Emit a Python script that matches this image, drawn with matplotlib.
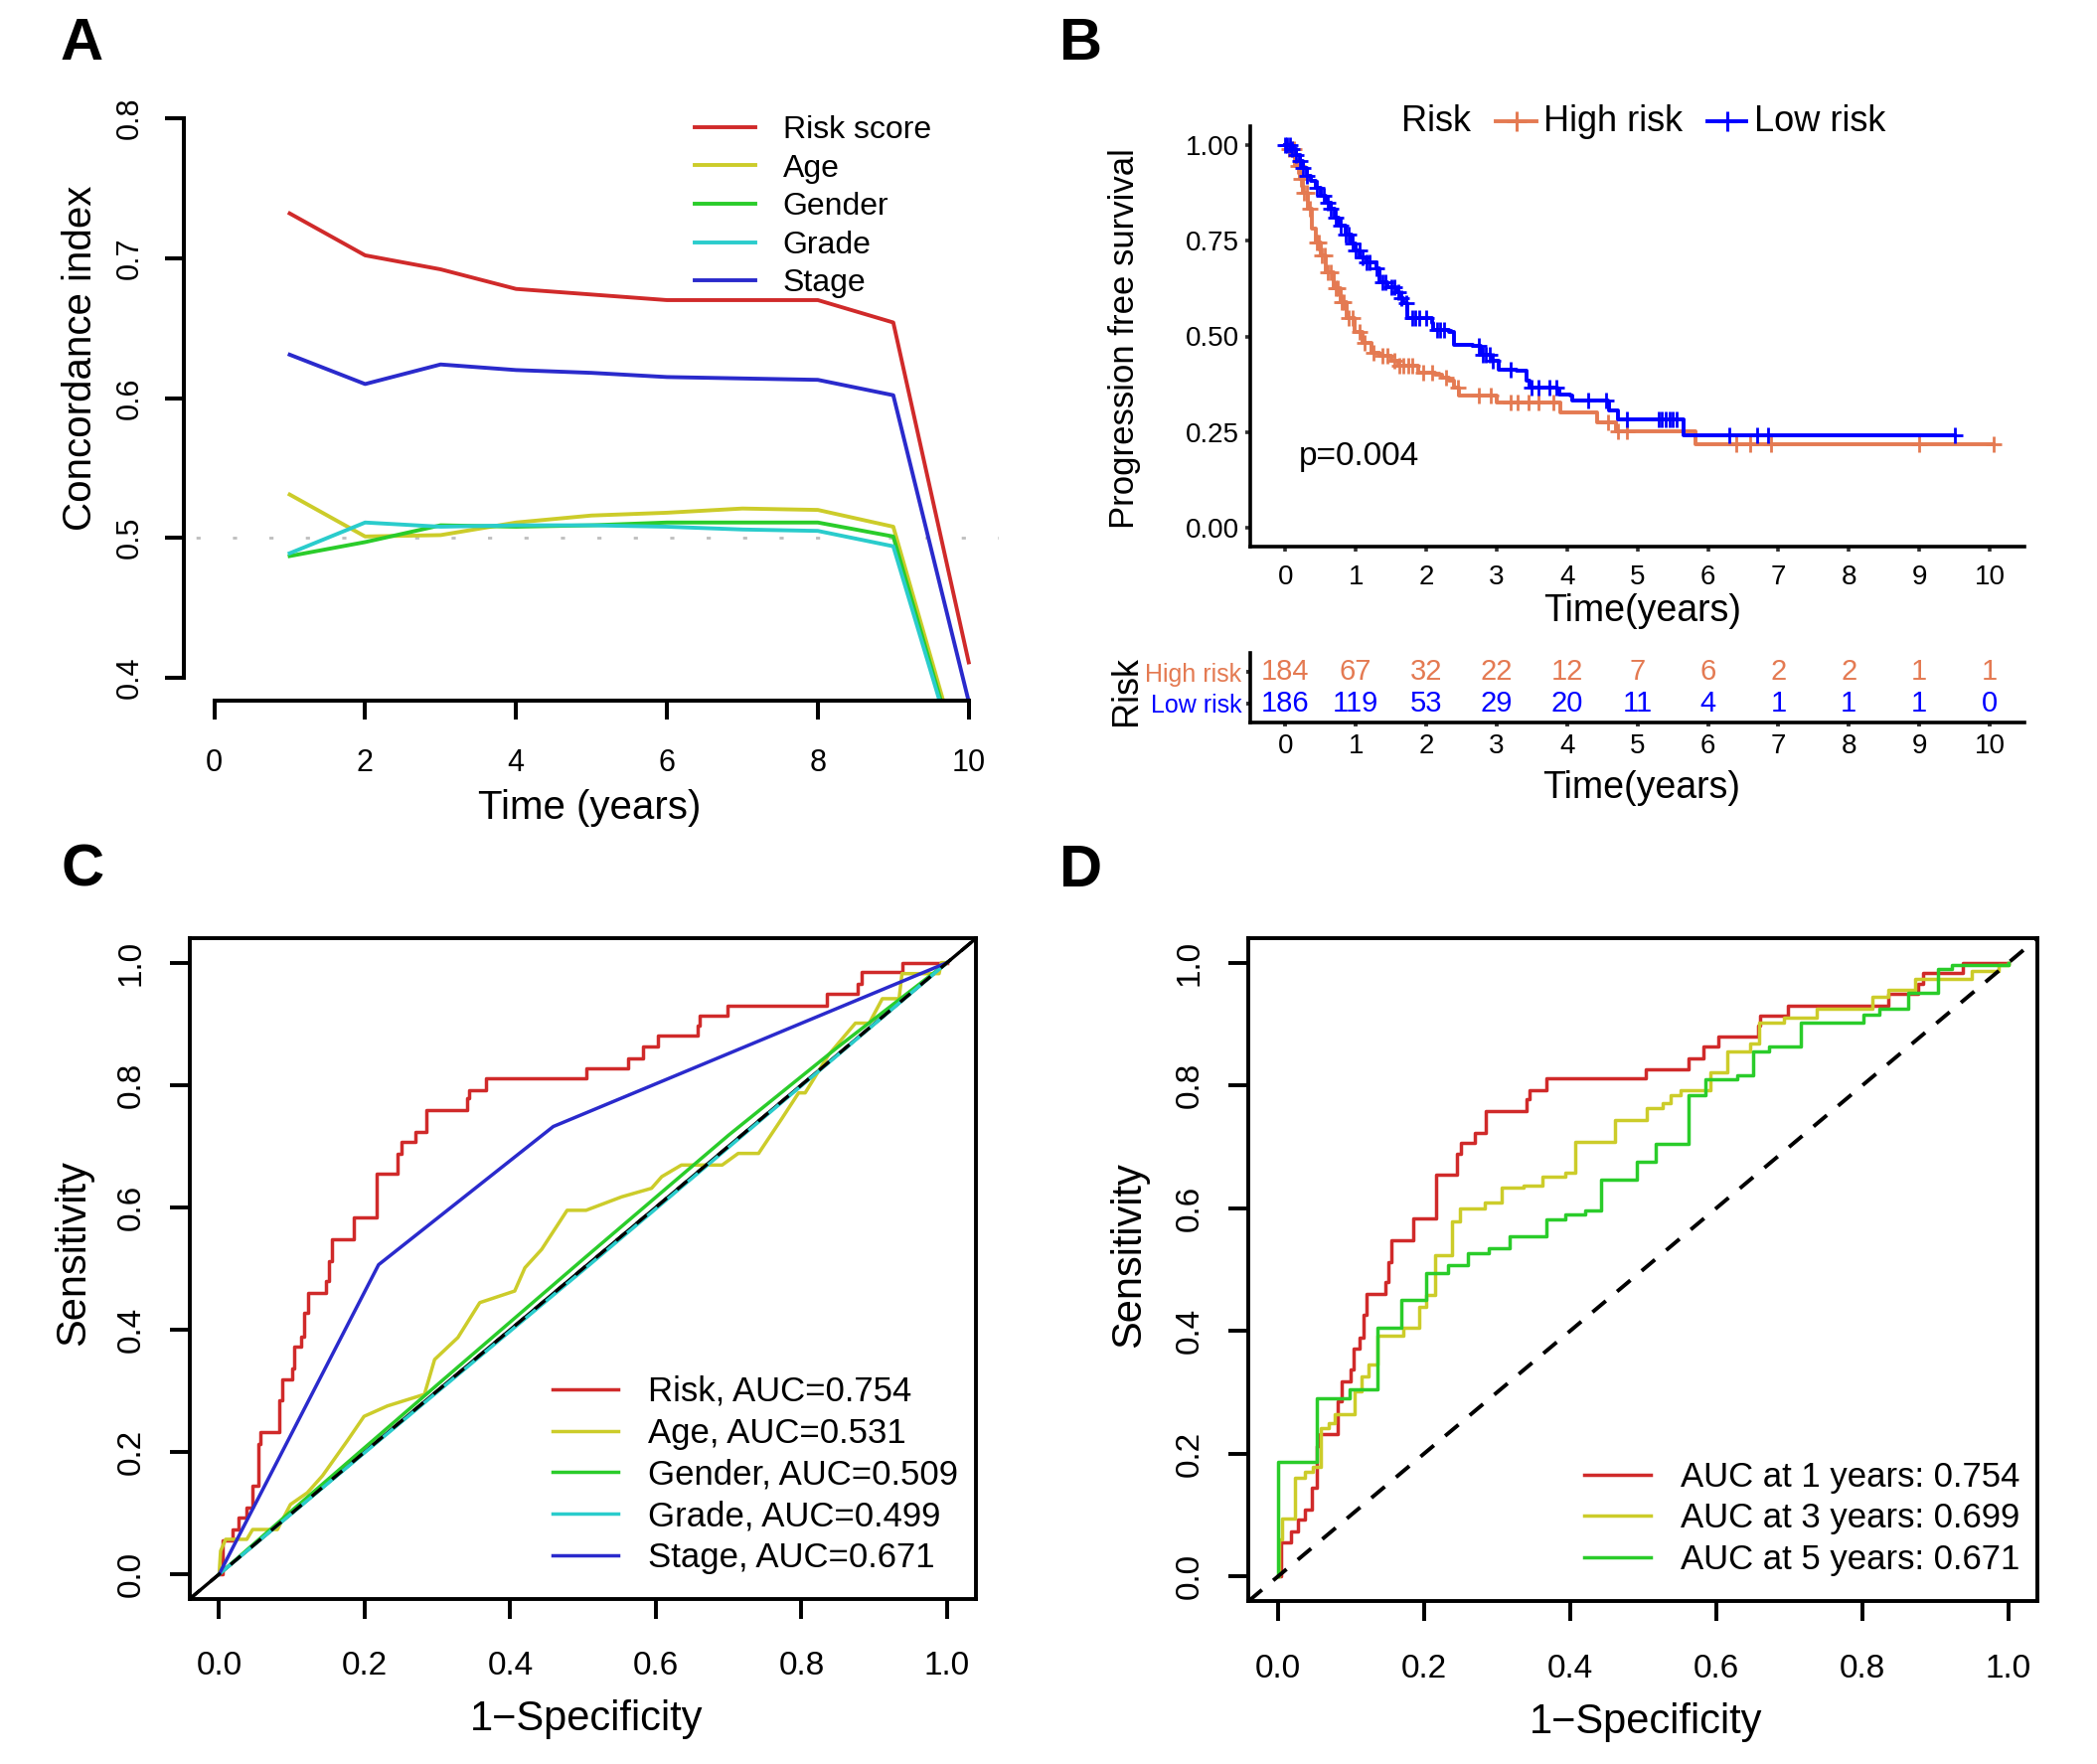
import numpy as np
import matplotlib
matplotlib.use("Agg")
import matplotlib.pyplot as plt
from matplotlib.lines import Line2D

plt.rcParams['font.family'] = ['Liberation Sans', 'DejaVu Sans']

# ---------------- data ----------------
# A: concordance index over time
years = [1, 2, 3, 4, 5, 6, 7, 8, 9, 10]
ci_risk = [0.732, 0.702, 0.692, 0.678, 0.674, 0.670, 0.670, 0.670, 0.654, 0.411]
ci_age = [0.531, 0.501, 0.502, 0.511, 0.516, 0.518, 0.521, 0.520, 0.508, 0.320]
ci_gender = [0.487, 0.497, 0.509, 0.508, 0.509, 0.511, 0.511, 0.511, 0.501, 0.315]
ci_grade = [0.489, 0.511, 0.508, 0.509, 0.509, 0.508, 0.506, 0.505, 0.494, 0.314]
ci_stage = [0.631, 0.610, 0.624, 0.620, 0.618, 0.615, 0.614, 0.613, 0.602, 0.383]
ci_names = ['Risk score', 'Age', 'Gender', 'Grade', 'Stage']

# B: Kaplan-Meier, progression free survival
high_t = [0, 0.04, 0.13, 0.20, 0.25, 0.32, 0.38, 0.43, 0.50, 0.57, 0.69, 0.78, 0.87, 0.99,
          1.10, 1.22, 1.33, 1.50, 1.61, 1.89, 2.12, 2.22, 2.33, 2.40, 2.47, 3.00, 3.91,
          4.42, 4.69, 5.83]
high_s = [1.0, 0.99, 0.946, 0.912, 0.877, 0.834, 0.782, 0.747, 0.712, 0.669, 0.626, 0.591,
          0.548, 0.513, 0.483, 0.457, 0.449, 0.436, 0.423, 0.405, 0.401, 0.392, 0.384, 0.366,
          0.345, 0.327, 0.301, 0.275, 0.251, 0.218]
high_end = 10.05
high_cens = [0.05, 0.1, 0.12, 0.18, 0.22, 0.27, 0.3, 0.35, 0.45, 0.48, 0.52, 0.56, 0.6, 0.65,
             0.72, 0.75, 0.8, 0.83, 0.9, 0.95, 1.05, 1.12, 1.25, 1.38, 1.45, 1.55, 1.62, 1.68,
             1.75, 1.8, 1.95, 2.08, 2.28, 2.45, 2.75, 2.92, 3.2, 3.3, 3.45, 3.6, 3.8, 4.58,
             4.72, 4.85, 6.4, 6.6, 6.9, 9.0, 10.05]
low_t = [0, 0.08, 0.15, 0.20, 0.25, 0.30, 0.36, 0.43, 0.50, 0.57, 0.64, 0.70, 0.76, 0.85,
         0.94, 1.00, 1.06, 1.15, 1.29, 1.34, 1.45, 1.57, 1.62, 1.68, 1.73, 2.08, 2.10, 2.33,
         2.40, 2.66, 2.77, 2.91, 3.03, 3.28, 3.42, 3.47, 3.86, 3.89, 4.05, 4.07, 4.58, 4.60,
         4.72, 5.65]
low_s = [1.0, 0.99, 0.975, 0.96, 0.94, 0.92, 0.907, 0.89, 0.868, 0.85, 0.834, 0.812, 0.79,
         0.767, 0.743, 0.725, 0.708, 0.695, 0.678, 0.643, 0.63, 0.617, 0.60, 0.587, 0.548,
         0.535, 0.518, 0.513, 0.479, 0.475, 0.453, 0.436, 0.414, 0.41, 0.384, 0.366, 0.362,
         0.349, 0.345, 0.332, 0.327, 0.306, 0.284, 0.24]
low_end = 9.5
low_cens = [0.0, 0.03, 0.06, 0.1, 0.15, 0.2, 0.25, 0.3, 0.45, 0.55, 0.6, 0.65, 0.72, 0.78,
            0.85, 0.9, 0.95, 1.0, 1.05, 1.1, 1.15, 1.2, 1.3, 1.38, 1.42, 1.5, 1.55, 1.6, 1.65,
            1.72, 1.8, 1.85, 1.9, 2.0, 2.15, 2.2, 2.25, 2.75, 2.8, 2.85, 2.9, 2.95, 3.2, 3.5,
            3.6, 3.75, 3.85, 4.3, 4.55, 4.85, 5.3, 5.35, 5.4, 5.45, 5.5, 5.55, 6.3, 6.7, 6.85,
            9.5]
table_times = [0, 1, 2, 3, 4, 5, 6, 7, 8, 9, 10]
high_n = [184, 67, 32, 22, 12, 7, 6, 2, 2, 1, 1]
low_n = [186, 119, 53, 29, 20, 11, 4, 1, 1, 1, 0]

# C/D: ROC curves (1-specificity, sensitivity)
risk_fpr = [0, 0.005, 0.018, 0.027, 0.037, 0.046, 0.054, 0.057, 0.082, 0.087, 0.100, 0.103,
            0.112, 0.117, 0.122, 0.147, 0.151, 0.155, 0.185, 0.216, 0.245, 0.250, 0.270, 0.285,
            0.340, 0.344, 0.367, 0.504, 0.562, 0.582, 0.603, 0.658, 0.660, 0.698, 0.835, 0.877,
            0.883, 0.938, 1.0]
risk_tpr = [0, 0.055, 0.073, 0.092, 0.109, 0.145, 0.213, 0.232, 0.285, 0.318, 0.337, 0.372,
            0.389, 0.427, 0.46, 0.479, 0.512, 0.548, 0.583, 0.655, 0.688, 0.707, 0.723, 0.759,
            0.778, 0.792, 0.811, 0.827, 0.844, 0.863, 0.880, 0.897, 0.913, 0.93, 0.949, 0.966,
            0.984, 1.0, 1.0]
age_fpr = [0, 0.002, 0.009, 0.038, 0.046, 0.080, 0.098, 0.121, 0.142, 0.176, 0.199, 0.231,
           0.282, 0.296, 0.328, 0.358, 0.406, 0.420, 0.443, 0.478, 0.504, 0.553, 0.594, 0.608,
           0.635, 0.691, 0.713, 0.741, 0.773, 0.796, 0.805, 0.837, 0.874, 0.893, 0.911, 0.934,
           0.938, 0.989, 0.992, 1.0]
age_tpr = [0, 0.038, 0.057, 0.057, 0.073, 0.073, 0.114, 0.133, 0.161, 0.218, 0.258, 0.275,
           0.294, 0.351, 0.387, 0.444, 0.463, 0.501, 0.531, 0.595, 0.595, 0.617, 0.631, 0.65,
           0.669, 0.669, 0.688, 0.688, 0.745, 0.787, 0.787, 0.849, 0.901, 0.901, 0.941, 0.941,
           0.982, 0.982, 1.0, 1.0]
gender_fpr = [0, 0.1, 0.3, 0.5, 0.7, 0.85, 1.0]
gender_tpr = [0, 0.104, 0.31, 0.515, 0.718, 0.862, 1.0]
grade_fpr = [0, 0.5, 1.0]
grade_tpr = [0, 0.497, 1.0]
stage_fpr = [0, 0.219, 0.459, 1.0]
stage_tpr = [0, 0.506, 0.732, 1.0]
roc_labels = ['Risk, AUC=0.754', 'Age, AUC=0.531', 'Gender, AUC=0.509',
              'Grade, AUC=0.499', 'Stage, AUC=0.671']

y3_fpr = [0, 0.002, 0.006, 0.023, 0.037, 0.048, 0.059, 0.069, 0.078, 0.105, 0.114, 0.124,
          0.136, 0.171, 0.194, 0.203, 0.215, 0.238, 0.249, 0.283, 0.307, 0.336, 0.362, 0.393,
          0.407, 0.462, 0.505, 0.527, 0.538, 0.551, 0.592, 0.615, 0.646, 0.659, 0.693, 0.737,
          0.814, 0.835, 0.872, 0.95, 0.986, 1.0]
y3_tpr = [0, 0.061, 0.094, 0.161, 0.170, 0.179, 0.241, 0.25, 0.264, 0.302, 0.326, 0.345,
          0.392, 0.406, 0.439, 0.458, 0.524, 0.579, 0.6, 0.609, 0.633, 0.637, 0.652, 0.658,
          0.708, 0.743, 0.763, 0.771, 0.784, 0.793, 0.822, 0.855, 0.869, 0.902, 0.911, 0.925,
          0.944, 0.956, 0.973, 0.987, 0.996, 1.0]
y5_fpr = [0, 0, 0.054, 0.098, 0.136, 0.169, 0.203, 0.233, 0.260, 0.288, 0.317, 0.368, 0.393,
          0.420, 0.443, 0.491, 0.517, 0.562, 0.585, 0.629, 0.651, 0.672, 0.716, 0.801, 0.823,
          0.863, 0.904, 0.922, 1.0]
y5_tpr = [0, 0.187, 0.29, 0.305, 0.406, 0.451, 0.494, 0.508, 0.527, 0.535, 0.554, 0.581,
          0.59, 0.597, 0.647, 0.675, 0.705, 0.784, 0.81, 0.817, 0.855, 0.864, 0.902, 0.916,
          0.925, 0.951, 0.989, 0.996, 1.0]
time_labels = ['AUC at 1 years: 0.754', 'AUC at 3 years: 0.699', 'AUC at 5 years: 0.671']

RED, YEL, GRN, CYN, BLU = '#D02A2A', '#CCCC2A', '#2ACC2A', '#2ACCCC', '#2A2ACC'
ORANGE, KMBLUE = '#E47A52', '#0000FF'

W, H = 2110, 1775
fig = plt.figure(figsize=(W / 100, H / 100), dpi=100)


def box(x0, x1, y0, y1):
    # axes from pixel edges (top-left origin)
    return fig.add_axes([x0 / W, 1 - y1 / H, (x1 - x0) / W, (y1 - y0) / H])


def label_at(ax, which, x, y):
    lab = ax.xaxis.label if which == 'x' else ax.yaxis.label
    lab.set_verticalalignment('center')
    lab.set_horizontalalignment('center')
    (ax.xaxis if which == 'x' else ax.yaxis).set_label_coords(x, y)


def surv_at(ts, ss, c):
    return ss[np.searchsorted(ts, c, side='right') - 1]


for letter, x, y in [('A', 61, 44), ('B', 1066, 45), ('C', 61, 876), ('D', 1066, 876)]:
    fig.text(x / W, 1 - y / H, letter, fontsize=43, fontweight='bold', ha='left', va='center')

# ---------------- A ----------------
ax0, ax1, ay0, ay1 = 185.2, 1005.1, 96.5, 704.5
axA = box(ax0, ax1, ay0, ay1)
for vals, col, name in zip([ci_risk, ci_age, ci_gender, ci_grade, ci_stage],
                           [RED, YEL, GRN, CYN, BLU], ci_names):
    axA.plot(years, vals, color=col, lw=2.8, label=name)
axA.axhline(0.5, color='#BEBEBE', lw=2, ls=(8.8, (1.5, 11.7)), zorder=0)
axA.set_xlim(-0.4, 10.4)
axA.set_ylim(0.384, 0.816)
for s in ['top', 'right']:
    axA.spines[s].set_visible(False)
axA.spines['left'].set_bounds(0.4, 0.8)
axA.spines['bottom'].set_bounds(0, 10)
for s in ['left', 'bottom']:
    axA.spines[s].set_linewidth(2.9)
axA.set_xticks(range(0, 11, 2))
axA.set_yticks([0.4, 0.5, 0.6, 0.7, 0.8])
axA.set_yticklabels(['0.4', '0.5', '0.6', '0.7', '0.8'])
axA.tick_params(length=13.7, width=2.9, labelsize=22)
axA.tick_params(axis='y', labelrotation=90, pad=15)
axA.tick_params(axis='x', pad=21)
for t in axA.get_yticklabels():
    t.set_va('center')
axA.set_xlabel('Time (years)', fontsize=29)
axA.set_ylabel('Concordance index', fontsize=29)
label_at(axA, 'x', (593 - ax0) / (ax1 - ax0), (ay1 - 813) / (ay1 - ay0))
label_at(axA, 'y', (81 - ax0) / (ax1 - ax0), (ay1 - 360) / (ay1 - ay0))
axA.legend(loc='upper left', bbox_to_anchor=(699 / W, 1 - 116 / H), bbox_transform=fig.transFigure,
           frameon=False, fontsize=23, handlelength=1.9, handletextpad=0.88,
           labelspacing=0.27, borderpad=0, borderaxespad=0)

# ---------------- B ----------------
bx0, bx1, by0, by1 = 1257.9, 2037.4, 127, 550
axB = box(bx0, bx1, by0, by1)
for ts, ss, tend, cens, col in [(high_t, high_s, high_end, high_cens, ORANGE),
                                (low_t, low_s, low_end, low_cens, KMBLUE)]:
    axB.step(ts + [tend], ss + [ss[-1]], where='post', color=col, lw=2.8)
    axB.plot(cens, [surv_at(ts, ss, c) for c in cens], ls='none', marker='+',
             ms=12, mew=2, color=col)
axB.text(0.19, 0.185, 'p=0.004', fontsize=24, va='center', ha='left')
axB.set_xlim(-0.5, 10.5)
axB.set_ylim(-0.05, 1.05)
for s in ['top', 'right']:
    axB.spines[s].set_visible(False)
for s in ['left', 'bottom']:
    axB.spines[s].set_linewidth(2.6)
axB.set_xticks(table_times)
axB.set_yticks([0, 0.25, 0.5, 0.75, 1.0])
axB.set_yticklabels(['0.00', '0.25', '0.50', '0.75', '1.00'])
axB.tick_params(length=3.6, width=2.6, color='#333333', labelsize=20, pad=4)
axB.tick_params(axis='x', pad=9)
axB.set_xlabel('Time(years)', fontsize=27)
axB.set_ylabel('Progression free survival', fontsize=25)
label_at(axB, 'x', (1653 - bx0) / (bx1 - bx0), (by1 - 615) / (by1 - by0))
label_at(axB, 'y', (1131.6 - bx0) / (bx1 - bx0), 0.494)

# legend on top
ly = 1 - 122 / H
fig.text(1410 / W, ly, 'Risk', fontsize=26, va='center', ha='left')
for x0, x1, xt, lab, col in [(1505, 1546, 1553, 'High risk', ORANGE),
                             (1718, 1757, 1765, 'Low risk', KMBLUE)]:
    fig.add_artist(Line2D([x0 / W, x1 / W], [ly, ly], color=col, lw=2.8))
    fig.add_artist(Line2D([(x0 + x1) / 2 / W], [ly], color=col, marker='+', ms=15, mew=2.2))
    fig.text(xt / W, ly, lab, fontsize=26, va='center', ha='left')

# risk table
ty0, ty1 = 657, 727
axT = box(bx0, bx1, ty0, ty1)
for i, t in enumerate(table_times):
    axT.text(t, 2, str(high_n[i]), color=ORANGE, fontsize=21, ha='center', va='center')
    axT.text(t, 1, str(low_n[i]), color=KMBLUE, fontsize=21, ha='center', va='center')
axT.set_xlim(-0.5, 10.5)
axT.set_ylim(0.4, 2.6)
for s in ['top', 'right']:
    axT.spines[s].set_visible(False)
for s in ['left', 'bottom']:
    axT.spines[s].set_linewidth(2.6)
axT.set_xticks(table_times)
axT.set_yticks([1, 2])
axT.set_yticklabels(['Low risk', 'High risk'], fontsize=18)
axT.get_yticklabels()[0].set_color(KMBLUE)
axT.get_yticklabels()[1].set_color(ORANGE)
axT.tick_params(length=3, width=2.8, color='#333333', pad=3)
axT.tick_params(axis='x', labelsize=20, pad=5)
axT.set_xlabel('Time(years)', fontsize=27)
axT.set_ylabel('Risk', fontsize=26)
label_at(axT, 'x', (1652 - bx0) / (bx1 - bx0), (ty1 - 793) / (ty1 - ty0))
label_at(axT, 'y', (1134 - bx0) / (bx1 - bx0), 0.457)


# ---------------- C / D ----------------
def roc_frame(ax, xpad):
    ax.set_xlim(-0.04, 1.04)
    ax.set_ylim(-0.04, 1.04)
    for s in ax.spines.values():
        s.set_linewidth(2.8)
    ticks = [0, 0.2, 0.4, 0.6, 0.8, 1.0]
    names = ['0.0', '0.2', '0.4', '0.6', '0.8', '1.0']
    ax.set_xticks(ticks)
    ax.set_xticklabels(names)
    ax.set_yticks(ticks)
    ax.set_yticklabels(names)
    ax.tick_params(length=14.4, width=2.8, labelsize=24)
    ax.tick_params(axis='y', labelrotation=90, pad=17)
    ax.tick_params(axis='x', pad=xpad)
    for t in ax.get_yticklabels():
        t.set_va('center')
    ax.set_xlabel('1\u2212Specificity', fontsize=30)
    ax.set_ylabel('Sensitivity', fontsize=30)


cx0, cx1, cy0, cy1 = 191.2, 982.3, 944, 1608.6
axC = box(cx0, cx1, cy0, cy1)
axC.axline((0, 0), (1, 1), color='black', lw=2.4, zorder=1)
axC.step(risk_fpr, risk_tpr, where='post', color=RED, lw=2.5, label=roc_labels[0], zorder=2)
axC.plot(age_fpr, age_tpr, color=YEL, lw=2.5, label=roc_labels[1], zorder=2)
axC.plot(gender_fpr, gender_tpr, color=GRN, lw=2.5, label=roc_labels[2], zorder=2)
axC.plot(grade_fpr, grade_tpr, color=CYN, lw=2.5, label=roc_labels[3], zorder=2)
axC.plot(stage_fpr, stage_tpr, color=BLU, lw=2.5, label=roc_labels[4], zorder=2)
axC.axline((0, 0), (1, 1), color='black', lw=2.4, dashes=(4, 4), zorder=3)
roc_frame(axC, 23)
label_at(axC, 'x', (590 - cx0) / (cx1 - cx0), (cy1 - 1730) / (cy1 - cy0))
label_at(axC, 'y', (74 - cx0) / (cx1 - cx0), (cy1 - 1261) / (cy1 - cy0))
axC.legend(loc='upper left', bbox_to_anchor=(555.6 / W, 1 - 1384 / H), bbox_transform=fig.transFigure,
           frameon=False, fontsize=25, handlelength=1.9, handletextpad=0.88,
           labelspacing=0.25, borderpad=0, borderaxespad=0)

dx0, dx1, dy0, dy1 = 1256.4, 2050.3, 944, 1611
axD = box(dx0, dx1, dy0, dy1)
axD.axline((0, 0), (1, 1), color='black', lw=2.8, dashes=(4.5, 3.8), zorder=3)
axD.step(risk_fpr, risk_tpr, where='post', color=RED, lw=2.5, label=time_labels[0])
axD.step(y3_fpr, y3_tpr, where='post', color=YEL, lw=2.5, label=time_labels[1])
axD.step(y5_fpr, y5_tpr, where='post', color=GRN, lw=2.5, label=time_labels[2])
roc_frame(axD, 24)
label_at(axD, 'x', (1656 - dx0) / (dx1 - dx0), (dy1 - 1733) / (dy1 - dy0))
label_at(axD, 'y', (1136 - dx0) / (dx1 - dx0), (dy1 - 1263) / (dy1 - dy0))
axD.legend(loc='upper left', bbox_to_anchor=(1594 / W, 1 - 1470 / H), bbox_transform=fig.transFigure,
           frameon=False, fontsize=25, handlelength=1.93, handletextpad=0.85,
           labelspacing=0.24, borderpad=0, borderaxespad=0)

fig.savefig('out.png', dpi=100)
